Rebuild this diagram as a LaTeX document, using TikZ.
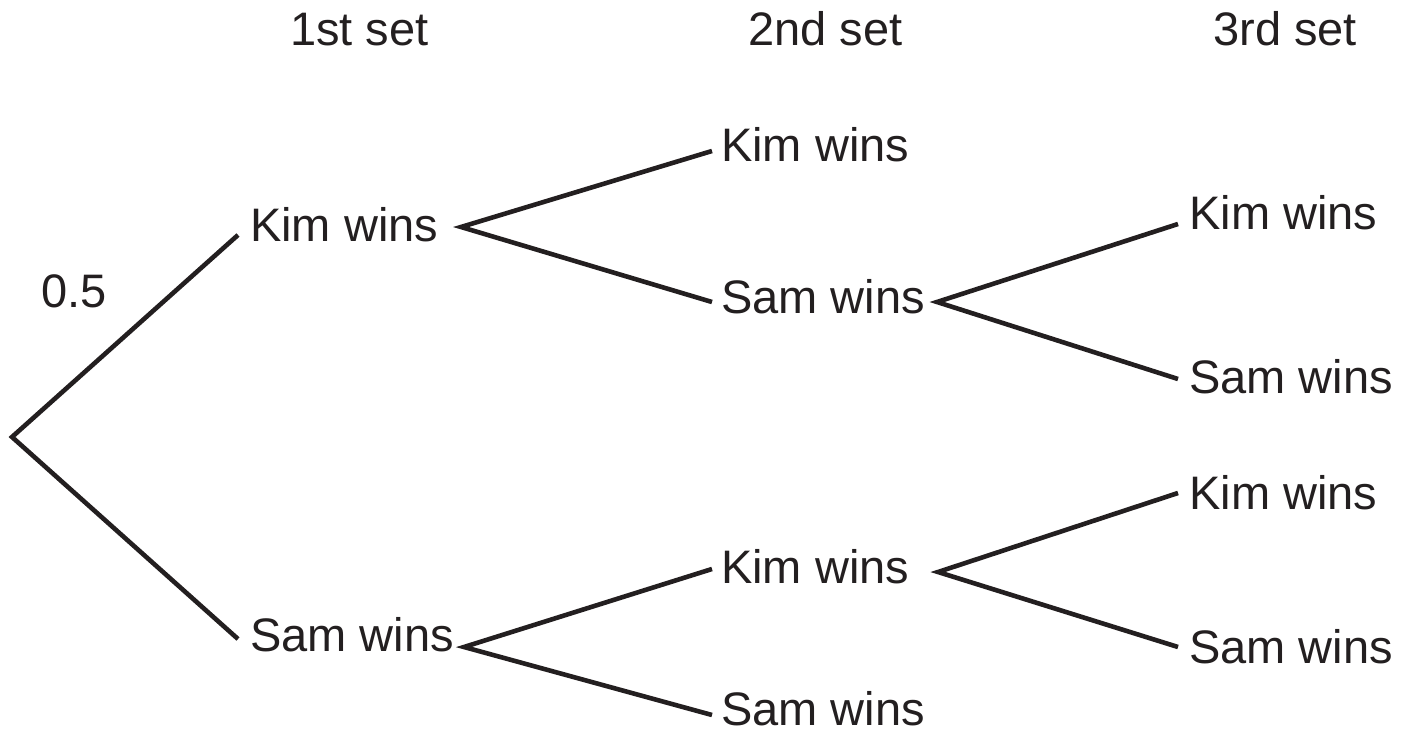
\documentclass[tikz,border=0pt]{standalone}
\usepackage{fontspec}
\setmainfont{Liberation Sans}
\definecolor{ink}{HTML}{231F20}
\begin{document}
\begin{tikzpicture}[x=1pt,y=-1pt,
  lbl/.style={anchor=base west,inner sep=0pt,text depth=0pt,text=ink,font=\fontsize{47}{56}\selectfont},
  branch/.style={draw=ink,line width=4.6pt}]
\useasboundingbox (0,0) rectangle (1415,735);
% headers
\node[lbl] (h1) at (290,46) {1st set};
\node[lbl] (h2) at (748,46) {2nd set};
\node[lbl] (h3) at (1213,46) {3rd set};
\node[lbl] (p) at (41,307) {0.5};
% first set
\node[lbl] (k1) at (250,242) {Kim wins};
\node[lbl] (s1) at (250,651) {Sam wins};
% second set
\node[lbl] (k2a) at (721,162) {Kim wins};
\node[lbl] (s2a) at (721,313) {Sam wins};
\node[lbl] (k2b) at (721,583) {Kim wins};
\node[lbl] (s2b) at (721,725) {Sam wins};
% third set
\node[lbl] (k3a) at (1189,230) {Kim wins};
\node[lbl] (s3a) at (1189,393) {Sam wins};
\node[lbl] (k3b) at (1189,509) {Kim wins};
\node[lbl] (s3b) at (1189,663) {Sam wins};
% junction points
\coordinate (r) at (12,437);
\coordinate (k1e) at (238,235);
\coordinate (s1e) at (238,639);
\coordinate (v1) at (461,227);
\coordinate (v2) at (464,647);
\coordinate (k2ae) at (712,151);
\coordinate (s2ae) at (712,302);
\coordinate (k2be) at (712,569);
\coordinate (s2be) at (712,715);
\coordinate (v3) at (937,302);
\coordinate (v4) at (938,572);
\coordinate (k3ae) at (1178,224);
\coordinate (s3ae) at (1178,379);
\coordinate (k3be) at (1178,493);
\coordinate (s3be) at (1178,647);
% branches
\draw[branch] (k1e) -- (r) -- (s1e);
\draw[branch] (k2ae) -- (v1) -- (s2ae);
\draw[branch] (k2be) -- (v2) -- (s2be);
\draw[branch] (k3ae) -- (v3) -- (s3ae);
\draw[branch] (k3be) -- (v4) -- (s3be);
\end{tikzpicture}
\end{document}
